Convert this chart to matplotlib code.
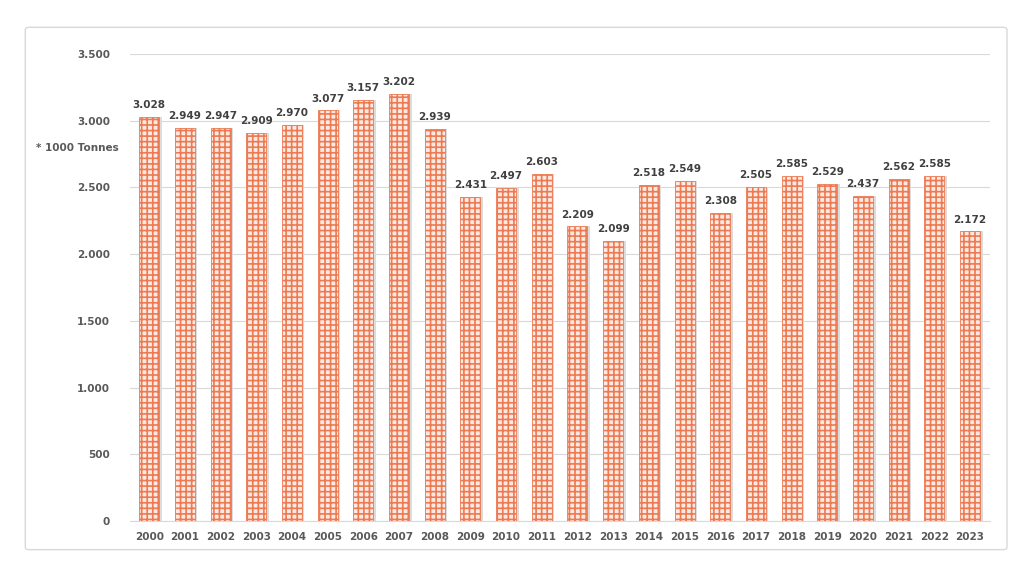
import matplotlib.pyplot as plt
from matplotlib.patches import FancyBboxPatch
from matplotlib.ticker import FuncFormatter

years = [str(y) for y in range(2000, 2024)]
tonnes = [3028, 2949, 2947, 2909, 2970, 3077, 3157, 3202, 2939, 2431, 2497, 2603,
          2209, 2099, 2518, 2549, 2308, 2505, 2585, 2529, 2437, 2562, 2585, 2172]
y_ticks = [0, 500, 1000, 1500, 2000, 2500, 3000, 3500]


def dotted(v, pos=None):
    return f"{int(v):,}".replace(",", ".")


plt.rcParams["hatch.color"] = "#e8562a"
plt.rcParams["hatch.linewidth"] = 1.2

fig = plt.figure(figsize=(10.12, 5.69), dpi=100)
ax = fig.add_axes([0.128, 0.0844, 0.85, 0.8207])

# outer frame
frame = FancyBboxPatch((0.025, 0.034), 0.97, 0.918, boxstyle="round,pad=0,rounding_size=0.004",
                       transform=fig.transFigure, facecolor="none", edgecolor="#d9d9d9",
                       linewidth=1.0, zorder=0)
fig.patches.append(frame)

x = range(len(years))
# soft shadow behind bars
ax.bar([i + 0.07 for i in x], tonnes, width=0.56, color="#dcdcdc", zorder=2, linewidth=0)
ax.bar(x, tonnes, width=0.56, facecolor="#fde9e1", edgecolor="#ec7a52", hatch="+++",
       linewidth=0.6, zorder=3)

for i, v in enumerate(tonnes):
    ax.text(i, v + 50, dotted(v), ha="center", va="bottom", fontsize=7.5,
            fontweight="bold", color="#404040")

ax.set_xlim(-0.55, len(years) - 0.45)
ax.set_ylim(0, 3500)
ax.set_yticks(y_ticks)
ax.yaxis.set_major_formatter(FuncFormatter(dotted))
ax.set_xticks(list(x))
ax.set_xticklabels(years)
ax.tick_params(axis="both", length=0, labelsize=7.5, colors="#595959")
ax.tick_params(axis="y", pad=14)
ax.tick_params(axis="x", pad=8)
for lab in ax.get_xticklabels() + ax.get_yticklabels():
    lab.set_fontweight("bold")

ax.grid(axis="y", color="#d9d9d9", linewidth=0.8, zorder=0)
ax.set_axisbelow(True)
for side in ["top", "right", "left"]:
    ax.spines[side].set_visible(False)
ax.spines["bottom"].set_color("#d9d9d9")

fig.text(0.036, 0.735, "* 1000 Tonnes", fontsize=7.5, fontweight="bold", color="#595959")

fig.savefig("out.png", dpi=100)
